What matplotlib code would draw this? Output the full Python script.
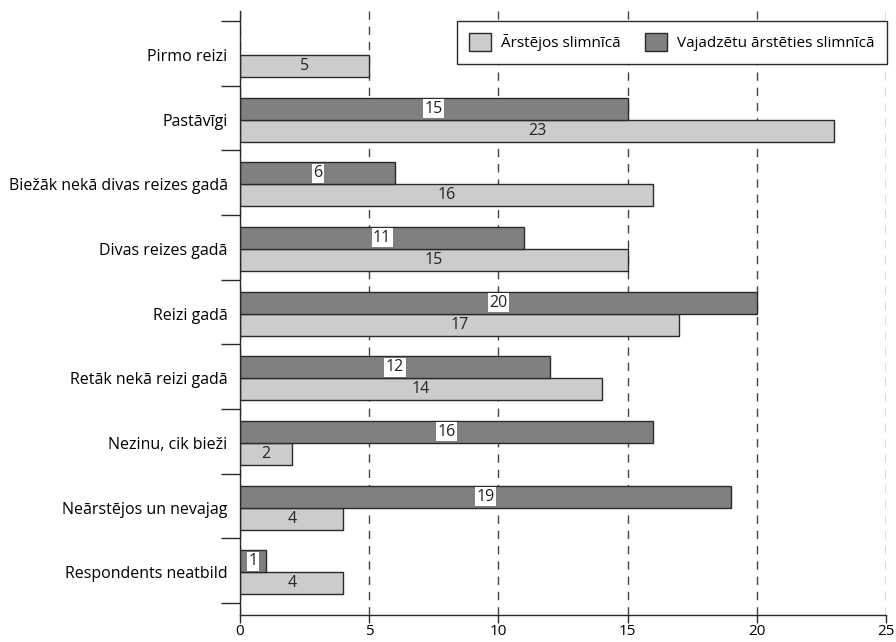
import numpy as np
import matplotlib.pyplot as plt
from matplotlib.patches import Patch
from matplotlib.ticker import FixedLocator

# Survey answers: how often respondents were treated in hospital
categories = [
    "Pirmo reizi",
    "Pastāvīgi",
    "Biežāk nekā divas reizes gadā",
    "Divas reizes gadā",
    "Reizi gadā",
    "Retāk nekā reizi gadā",
    "Nezinu, cik bieži",
    "Neārstējos un nevajag",
    "Respondents neatbild",
]
treated = [5, 23, 16, 15, 17, 14, 2, 4, 4]
should_be = [None, 15, 6, 11, 20, 12, 16, 19, 1]

series_names = ["Ārstējos slimnīcā", "Vajadzētu ārstēties slimnīcā"]

LIGHT = "#cccccc"
DARK = "#808080"
EDGE = "#2a2a2a"

plt.rcParams["font.family"] = ["Open Sans", "DejaVu Sans"]

fig = plt.figure(figsize=(8.96, 6.42), dpi=100)
ax = fig.add_axes([0.2679, 0.0421, 0.7209, 0.9408])

n = len(categories)
pos = np.arange(n)
h = 0.34
split = pos + 0.025  # line between the two bars of one group

ax.barh(split + h / 2, treated, height=h, color=LIGHT,
        edgecolor=EDGE, linewidth=1, zorder=2)
dark_idx = [i for i, v in enumerate(should_be) if v is not None]
dark_vals = [should_be[i] for i in dark_idx]
ax.barh(split[dark_idx] - h / 2, dark_vals, height=h, color=DARK,
        edgecolor=EDGE, linewidth=1, zorder=2)

# value labels in the middle of each bar
for y, v in zip(split + h / 2, treated):
    ax.text(v / 2, y, str(v), ha="center", va="center", fontsize=11.5,
            color="#222222", zorder=4)
for i, v in zip(dark_idx, dark_vals):
    ax.text(v / 2, split[i] - h / 2, str(v), ha="center", va="center",
            fontsize=11.5, color="#222222", zorder=4,
            bbox=dict(facecolor="white", edgecolor="none", pad=1.0))

ax.set_xlim(0, 25)
ax.set_ylim(8.5 + 12 / 64.5, -0.5 - 10 / 64.5)
ax.set_xticks([0, 5, 10, 15, 20, 25])
ax.tick_params(axis="x", direction="out", length=6, width=1,
               labelsize=11, pad=0.5, color=EDGE)

# category names sit on the split line, short marks between groups
ax.set_yticks(split)
ax.set_yticklabels(categories, fontsize=11.5)
ax.tick_params(axis="y", which="major", length=0, pad=9)
ax.yaxis.set_minor_locator(FixedLocator(np.arange(-0.5, n, 1.0)))
ax.tick_params(axis="y", which="minor", length=14, width=1, color=EDGE)

ax.xaxis.grid(True, linestyle=(0, (6, 5)), color="#444444",
              linewidth=1, zorder=0)
ax.set_axisbelow(True)

for side in ("top", "right"):
    ax.spines[side].set_visible(False)
for side in ("left", "bottom"):
    ax.spines[side].set_color(EDGE)
    ax.spines[side].set_linewidth(1)

handles = [Patch(facecolor=LIGHT, edgecolor=EDGE, linewidth=1),
           Patch(facecolor=DARK, edgecolor=EDGE, linewidth=1)]
leg = ax.legend(handles=handles, labels=series_names,
                ncol=2, loc="upper right",
                bbox_to_anchor=(887 / 896, 1 - 21 / 642),
                bbox_transform=fig.transFigure,
                fontsize=11, frameon=True, fancybox=False,
                handlelength=1.45, handleheight=1.45, handletextpad=0.65,
                columnspacing=1.6, borderpad=0.8, borderaxespad=0)
leg.get_frame().set_edgecolor(EDGE)
leg.get_frame().set_linewidth(1)
leg.get_frame().set_alpha(1)

fig.savefig("out.png", dpi=100)
